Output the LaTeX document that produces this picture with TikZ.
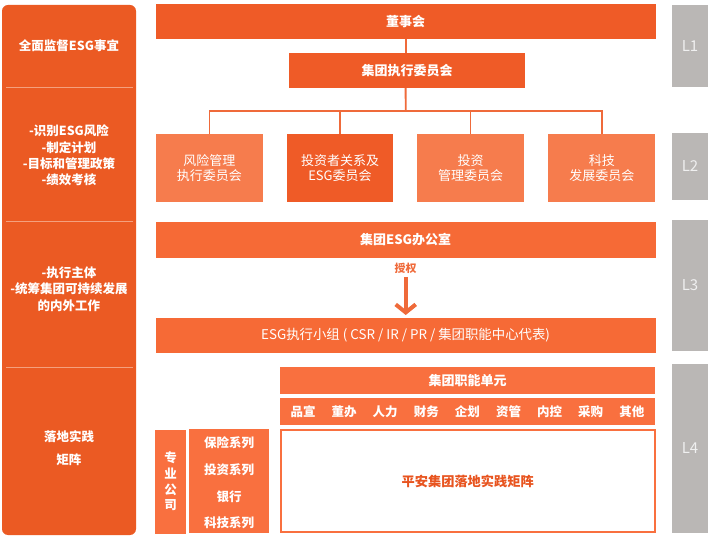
\documentclass[tikz,border=0pt]{standalone}
\usepackage{fontspec}
\setmainfont{Noto Sans CJK SC}
\usetikzlibrary{arrows.meta}
\definecolor{leftc}{HTML}{EB5A23}
\definecolor{darkor}{HTML}{EF5B27}
\definecolor{lightor}{HTML}{F67C4D}
\definecolor{midor}{HTML}{F66A36}
\definecolor{lfour}{HTML}{F9703F}
\definecolor{sepc}{HTML}{F4A07E}
\definecolor{linec}{HTML}{EF6A3A}
\definecolor{grayc}{HTML}{BAB7B5}
\definecolor{mattext}{HTML}{E8541F}
\tikzset{
  box/.style={draw=none, inner sep=0pt, text=white, align=center,
    font=\fontsize{13}{15.5}\selectfont},
  bbox/.style={box, font=\fontsize{13}{15.5}\selectfont\bfseries},
  conn/.style={draw=linec, line width=1.8pt},
  lvl/.style={fill=grayc, inner sep=0pt, minimum width=36pt, text=white!94!black,
    font=\fontsize{15}{17}\selectfont},
  lefttext/.style={text=white, align=center, inner sep=0pt,
    font=\fontsize{12.5}{16.3}\selectfont\bfseries},
  sepline/.style={draw=sepc, line width=1pt},
  itemtext/.style={text=white, inner sep=0pt, font=\fontsize{12.5}{15}\selectfont\bfseries},
}
\begin{document}
\begin{tikzpicture}[x=1pt,y=-1pt]
\useasboundingbox (0,0) rectangle (710,540);
% left column
\node[fill=leftc, rounded corners=6pt, minimum width=134pt, minimum height=530pt, inner sep=0pt] (lc) at (69,270) {};
\draw[sepline] (6,88) -- (133,88);
\draw[sepline] (6,222) -- (133,222);
\draw[sepline] (6,367) -- (133,367);
\node[lefttext] (t1) at (69,46) {全面监督ESG事宜};
\node[lefttext] (t2) at (69,155.5) {-识别ESG风险\\-制定计划\\-目标和管理政策\\-绩效考核};
\node[lefttext] (t3) at (69,289) {-执行主体\\-统筹集团可持续发展\\的内外工作};
\node[lefttext, font=\fontsize{12.5}{23}\selectfont\bfseries] (t4) at (69,448.5) {落地实践\\矩阵};
% L1
\node[bbox, fill=darkor, minimum width=500pt, minimum height=35pt] (dsh) at (405.6,21.5) {董事会};
\node[bbox, fill=darkor, minimum width=236pt, minimum height=35pt] (exec) at (407,70.5) {集团执行委员会};
% L2
\node[box, fill=lightor, minimum width=107pt, minimum height=68pt] (b1) at (209.4,168) {风险管理\\执行委员会};
\node[box, fill=darkor, minimum width=106pt, minimum height=68pt] (b2) at (340,168) {投资者关系及\\ESG委员会};
\node[box, fill=lightor, minimum width=107pt, minimum height=68pt] (b3) at (470.5,168) {投资\\管理委员会};
\node[box, fill=lightor, minimum width=107pt, minimum height=68pt] (b4) at (601.8,168) {科技\\发展委员会};
\coordinate (bus) at (405.7,111);
\draw[conn] (dsh.south) -- (dsh.south |- exec.north);
\draw[conn] (dsh.south |- exec.south) -- (bus);
\draw[conn] (b1.north) -- (b1.north |- bus) -- (b4.north |- bus) -- (b4.north);
\draw[conn] (b2.north) -- (b2.north |- bus);
\draw[conn] (b3.north) -- (b3.north |- bus);
% L3
\node[bbox, fill=midor, minimum width=500pt, minimum height=36pt] (office) at (405.6,240) {集团ESG办公室};
\node[bbox, text=linec, font=\fontsize{11}{13}\selectfont\bfseries] (auth) at (405.7,268) {授权};
\node[box, fill=midor, minimum width=500pt, minimum height=35pt, font=\fontsize{13.4}{16}\selectfont] (grp) at (405.6,335.5) {ESG执行小组 ( CSR / IR / PR / 集团职能中心代表)};
\coordinate (a1) at (405.7,277);
\coordinate (a2) at (405.7,315);
\draw[draw=linec, line width=4pt, -{Straight Barb[length=8pt,width=20pt]}] (a1) -- (a2);
% L4
\node[bbox, fill=lfour, minimum width=375.5pt, minimum height=27pt] (fu) at (467.7,380.5) {集团职能单元};
\node[box, fill=lfour, minimum width=375.5pt, minimum height=26.5pt] (row) at (467.7,411.7) {};
\foreach \t [count=\i from 0] in {品宣,董办,人力,财务,企划,资管,内控,采购,其他} {
  \node[itemtext] (it\i) at (303+41.1*\i,411.7) {\t};
}
\node[draw=lfour, line width=1.6pt, fill=white, minimum width=374pt, minimum height=102.5pt, inner sep=0pt,
  text=mattext, font=\fontsize{13.2}{15}\selectfont\bfseries] (mat) at (467.7,481) {平安集团落地实践矩阵};
\node[bbox, fill=lfour, minimum width=30.5pt, minimum height=104pt, font=\fontsize{12.5}{15.7}\selectfont\bfseries] (zy) at (170.7,481.5) {专\\业\\公\\司};
\node[box, fill=lfour, minimum width=80pt, minimum height=104pt] (ser) at (229,481) {};
\node[itemtext] (s1) at (229,443) {保险系列};
\node[itemtext] (s2) at (229,470) {投资系列};
\node[itemtext] (s3) at (229,497) {银行};
\node[itemtext] (s4) at (229,523) {科技系列};
% levels
\node[lvl, minimum height=82pt] (L1) at (690,46) {L1};
\node[lvl, minimum height=67pt] (L2) at (690,166.5) {L2};
\node[lvl, minimum height=131pt] (L3) at (690,285.5) {L3};
\node[lvl, minimum height=169pt] (L4) at (690,448.5) {L4};
\end{tikzpicture}
\end{document}
